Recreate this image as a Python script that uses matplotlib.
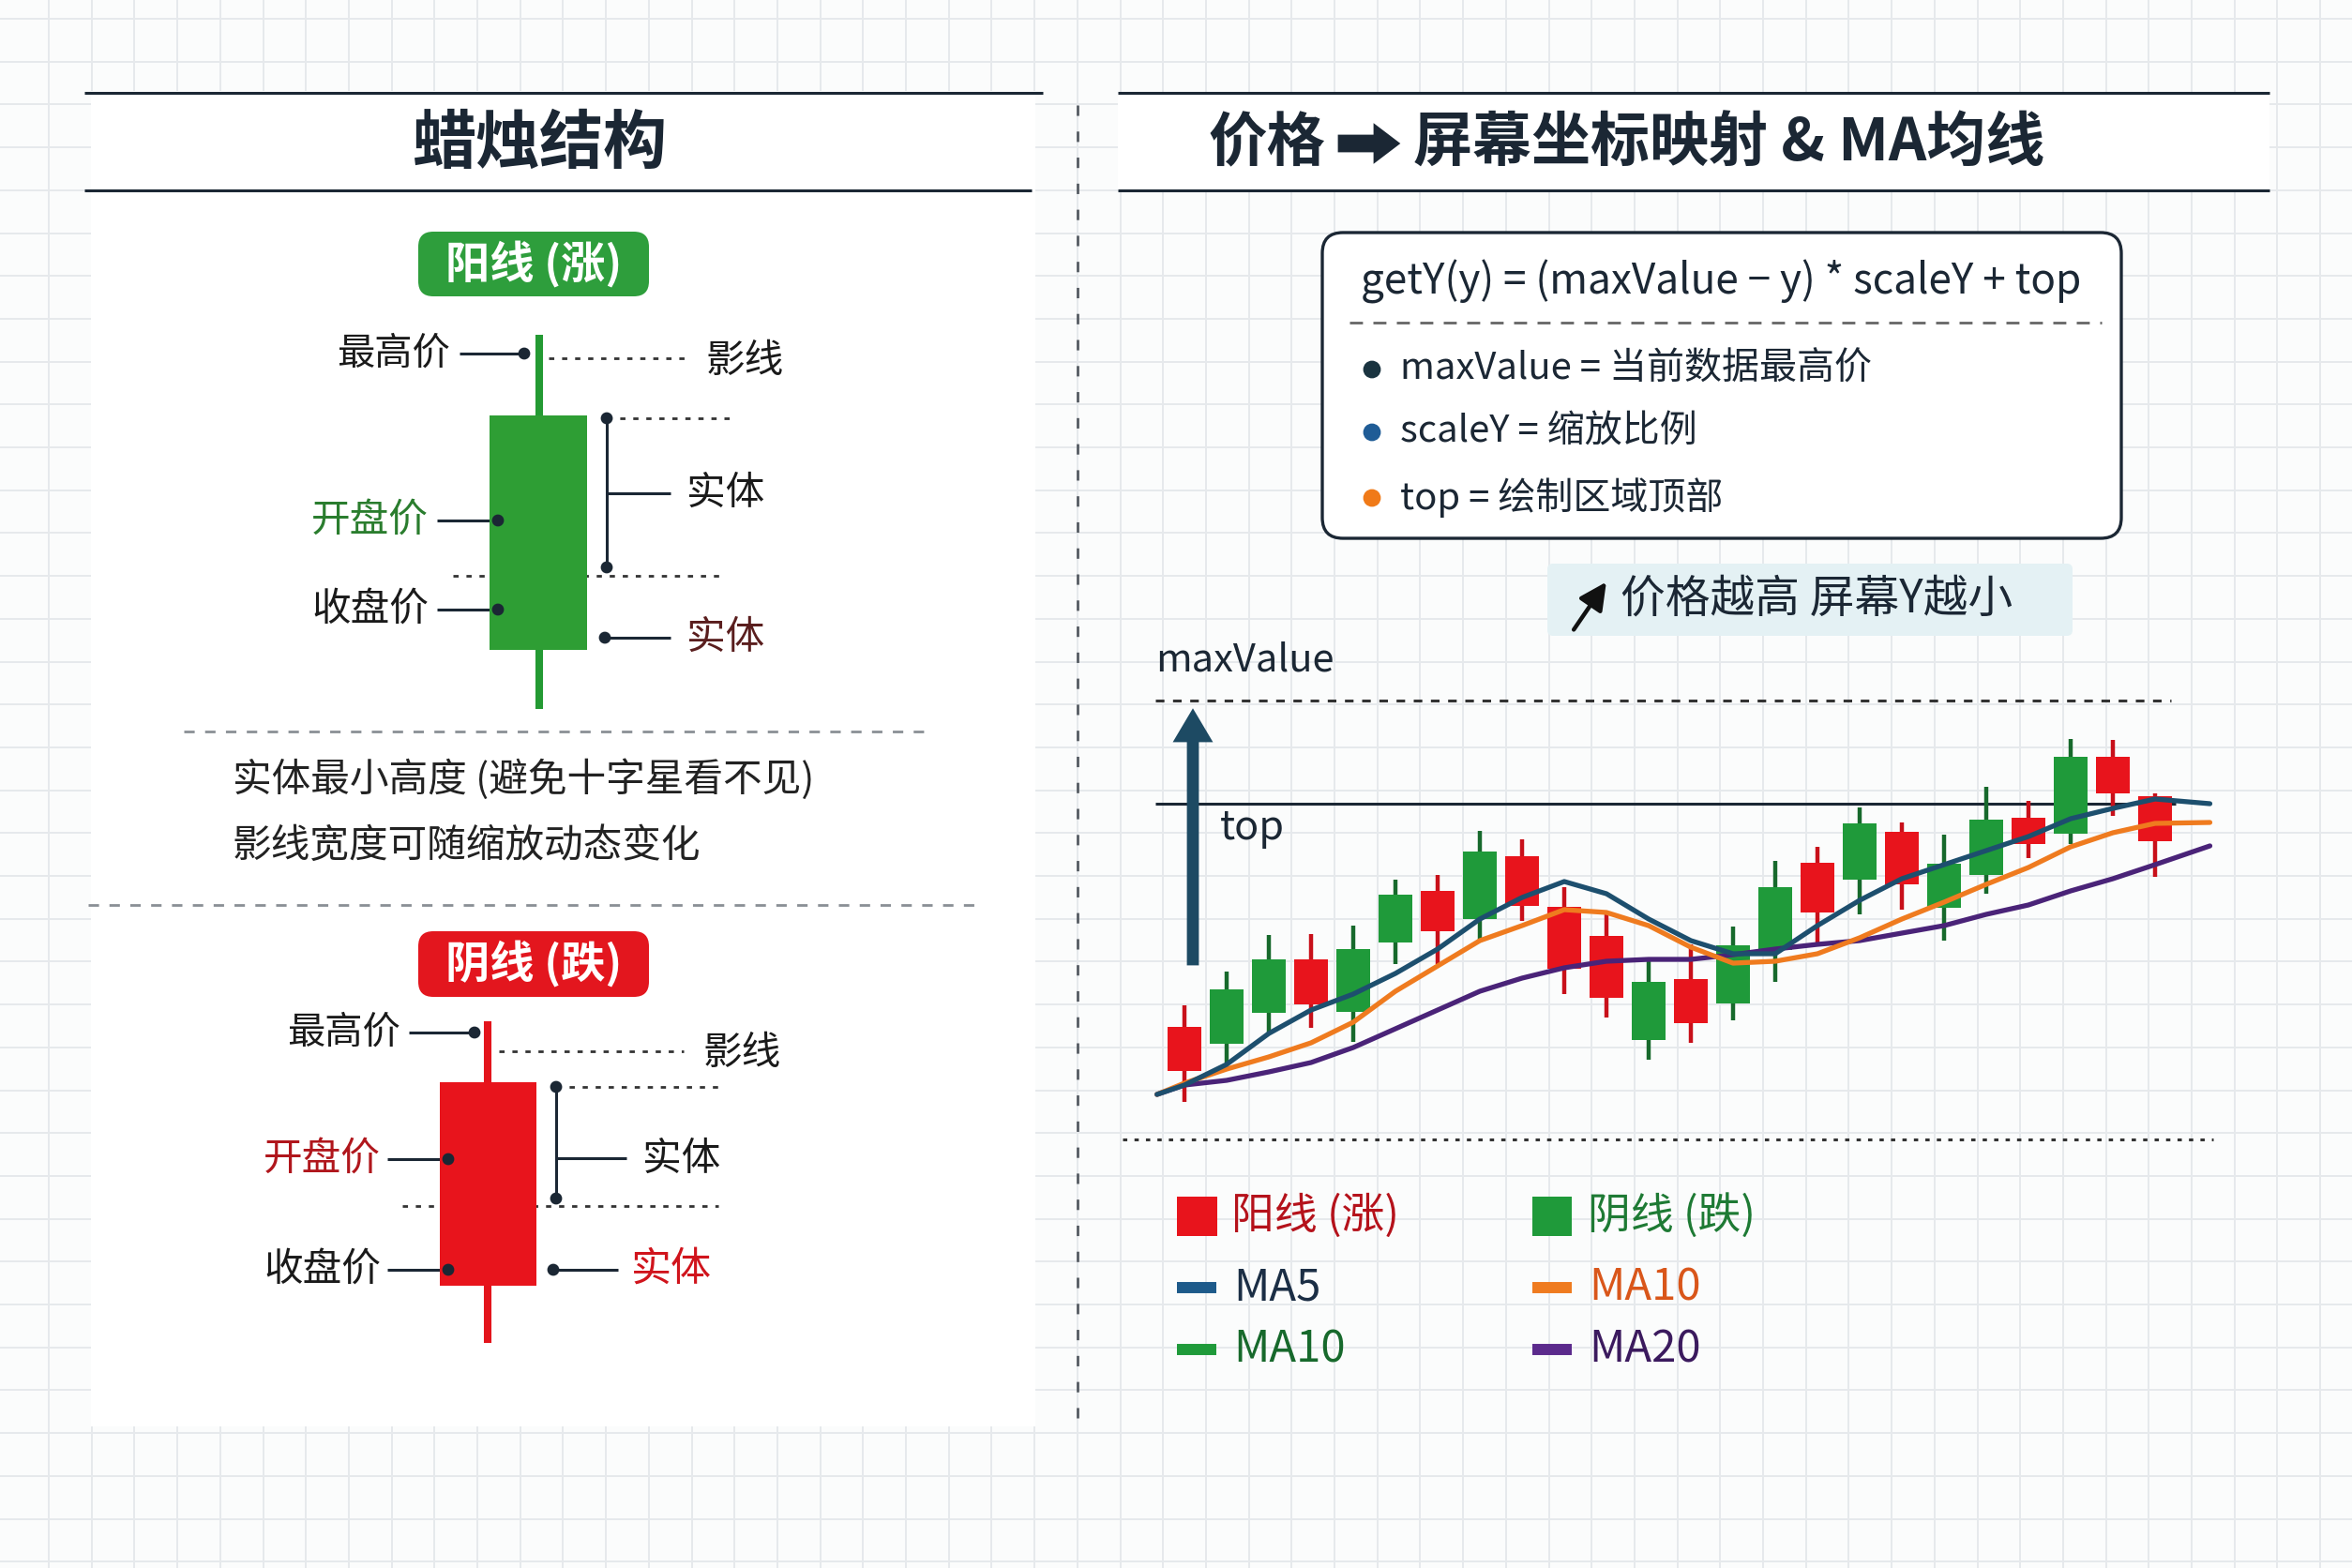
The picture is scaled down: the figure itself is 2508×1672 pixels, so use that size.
import numpy as np
import matplotlib
matplotlib.use('Agg')
import matplotlib.pyplot as plt
import matplotlib.patches as mpatches

plt.rcParams['font.family'] = ['Noto Sans CJK SC', 'DejaVu Sans']

W, H = 2508, 1672
DARK = '#1b2734'

# ---- candle data (price units) ----
opens  = [29, 72.5, 88.5, 64.5, 94, 123, 103.5, 146, 117, 83.5, 68, 76.5,
          54.5, 96, 127, 113.5, 161, 128.5, 139.5, 163, 150, 196.5, 177, 151.5]
closes = [52.5, 43.5, 60, 88.5, 60.5, 97.5, 125, 110, 143.5, 116.5, 101, 45.5,
          78, 65, 93.5, 140, 131, 156.5, 116, 133.5, 164, 155.5, 196.5, 175.5]
highs  = [64, 82, 101.5, 102, 106.5, 131, 133.5, 157, 152.5, 127, 114, 87.5,
          96.5, 106, 141, 148.5, 169.5, 161.5, 155, 180.5, 173, 206, 205.5, 177]
lows   = [12.5, 33.5, 48.5, 52, 44.5, 86, 86, 98.5, 109, 70, 57.5, 35,
          44, 56, 76.5, 96.5, 112.5, 115, 98.5, 123.5, 142.5, 150, 165, 132.5]

# moving average lines (start point, one value per candle, end point)
ma_x = [-0.65] + list(range(24)) + [24.3]
ma5  = [16.5, 21.5, 32.5, 49, 61.5, 70, 81, 94, 110, 121.5, 130, 123.5, 110,
        98.5, 91.5, 91.5, 106.5, 120, 131.5, 139, 146.5, 154, 163.5, 169, 174, 171.5]
ma10 = [16.5, 22.5, 30, 36.5, 44, 55, 71.5, 85, 98.5, 106.5, 115, 113.5, 106.5,
        95, 86.5, 87.5, 91.5, 100, 110, 119, 128.5, 137.5, 148.5, 156, 161, 161.5]
ma20 = [16.5, 21.5, 24, 28.5, 33.5, 41.5, 51.5, 61.5, 71.5, 78.5, 84, 87.5, 88.5,
        88.5, 91, 94, 96.5, 98.5, 102.5, 106.5, 112.5, 117.5, 125, 131.5, 139, 149]

legend_labels = ['阳线 (涨)', '阴线 (跌)', 'MA5', 'MA10', 'MA10', 'MA20']

fig = plt.figure(figsize=(W / 200, H / 200), dpi=200, facecolor='#fbfcfc')
ax = fig.add_axes([0, 0, 1, 1])
ax.set_xlim(0, W)
ax.set_ylim(H, 0)
ax.axis('off')

# background grid
for gx in np.arange(52, W, 45.7):
    ax.plot([gx, gx], [0, H], color='#e6e9ec', lw=0.7, zorder=0)
for gy in np.arange(20, H, 45.7):
    ax.plot([0, W], [gy, gy], color='#e6e9ec', lw=0.7, zorder=0)

# white panels
ax.add_patch(mpatches.Rectangle((97, 97), 1007, 1424, facecolor='white', edgecolor='none', zorder=1))
ax.add_patch(mpatches.Rectangle((1192, 99), 1228, 104, facecolor='white', edgecolor='none', zorder=1))


def hline(x0, x1, y, **kw):
    ax.plot([x0, x1], [y, y], zorder=3, solid_capstyle='butt', **kw)


def dot(x, y, r=5, c=DARK):
    ax.add_patch(mpatches.Circle((x, y), r, color=c, zorder=4))


def txt(x, y, s, size=14.5, color='#1a1a1a', ha='left', **kw):
    ax.text(x, y, s, fontsize=size, color=color, ha=ha, va='center', zorder=5, **kw)


# ---- titles ----
hline(90, 1112, 99, color=DARK, lw=1.1)
hline(90, 1100, 203, color=DARK, lw=1.1)
hline(1192, 2420, 99, color=DARK, lw=1.1)
hline(1192, 2420, 203, color=DARK, lw=1.1)
txt(576, 154, '蜡烛结构', size=24.5, color=DARK, ha='center', weight='bold')
txt(1413, 153, '价格', size=22.5, color=DARK, ha='right', weight='bold')
ax.add_patch(mpatches.Polygon([(1428, 145), (1466, 145), (1466, 134), (1491, 153),
                               (1466, 172), (1466, 161), (1428, 161)],
                              closed=True, color=DARK, zorder=4))
txt(1507, 153, '屏幕坐标映射 & MA均线', size=22.7, color=DARK, weight='bold')

# divider
ax.plot([1149, 1149], [112, 1518], color='#555b62', lw=1.0, ls=(0, (4, 6)), zorder=3)

# ---- left panel: candle anatomy ----
# green (阳线) diagram
ax.add_patch(mpatches.FancyBboxPatch((446, 247), 246, 69, boxstyle='round,pad=0,rounding_size=16',
                                     facecolor='#2e9e3c', edgecolor='none', zorder=3))
txt(569, 282, '阳线 (涨)', size=17, color='white', ha='center', weight='bold')
ax.plot([575, 575], [357, 756], color='#249a33', lw=2.9, zorder=3, solid_capstyle='butt')
ax.add_patch(mpatches.Rectangle((522, 443), 104, 250, facecolor='#2e9e34', edgecolor='none', zorder=4))
txt(480, 377, '最高价', ha='right')
hline(490, 559, 377, color=DARK, lw=1.1)
dot(559, 377)
hline(585, 736, 382, color='#333', lw=1.0, ls=(0, (2, 3)))
txt(753, 386, '影线', size=15)
ax.plot([647, 647], [446, 605], color=DARK, lw=1.1, zorder=3)
dot(647, 446); dot(647, 605)
hline(647, 778, 446, color='#333', lw=1.0, ls=(0, (2, 3)))
hline(647, 715, 526, color=DARK, lw=1.1)
txt(732, 526, '实体', size=15)
hline(483, 771, 614, color='#333', lw=1.0, ls=(0, (2, 3)))
txt(457, 555, '开盘价', ha='right', color='#2a7d2e', size=15)
hline(466, 531, 555, color=DARK, lw=1.1)
dot(531, 555)
txt(457, 650, '收盘价', ha='right', size=15)
hline(466, 531, 650, color=DARK, lw=1.1)
dot(531, 650)
hline(645, 715, 680, color=DARK, lw=1.1)
dot(645, 680)
txt(732, 680, '实体', color='#5a1e1e', size=15)

# notes
hline(196, 985, 780, color='#8a8f95', lw=1.0, ls=(0, (4, 4)))
txt(248, 831, '实体最小高度 (避免十字星看不见)', size=15, color='#222')
txt(248, 902, '影线宽度可随缩放动态变化', size=15, color='#222')
hline(94, 1045, 965, color='#8a8f95', lw=1.0, ls=(0, (4, 4)))

# red (阴线) diagram
ax.add_patch(mpatches.FancyBboxPatch((446, 993), 246, 70, boxstyle='round,pad=0,rounding_size=16',
                                     facecolor='#e3161e', edgecolor='none', zorder=3))
txt(569, 1028, '阴线 (跌)', size=17, color='white', ha='center', weight='bold')
ax.plot([520, 520], [1089, 1432], color='#e3141c', lw=2.9, zorder=3, solid_capstyle='butt')
ax.add_patch(mpatches.Rectangle((469, 1154), 103, 217, facecolor='#e8141c', edgecolor='none', zorder=4))
txt(427, 1101, '最高价', ha='right')
hline(436, 506, 1101, color=DARK, lw=1.1)
dot(506, 1101)
hline(532, 729, 1121, color='#333', lw=1.0, ls=(0, (2, 3)))
txt(750, 1124, '影线', size=15)
ax.plot([593, 593], [1159, 1278], color=DARK, lw=1.1, zorder=3)
dot(593, 1159); dot(593, 1278)
hline(593, 771, 1159, color='#333', lw=1.0, ls=(0, (2, 3)))
hline(593, 668, 1235, color=DARK, lw=1.1)
txt(685, 1236, '实体', size=15)
hline(429, 766, 1286, color='#333', lw=1.0, ls=(0, (2, 3)))
txt(406, 1236, '开盘价', ha='right', color='#b0161c', size=15)
hline(413, 478, 1236, color=DARK, lw=1.1)
dot(478, 1236)
txt(406, 1354, '收盘价', ha='right', size=15)
hline(413, 478, 1354, color=DARK, lw=1.1)
dot(478, 1354)
hline(590, 659, 1354, color=DARK, lw=1.1)
dot(590, 1354)
txt(673, 1354, '实体', color='#d0141c', size=15.5)

# ---- right panel: formula box ----
ax.add_patch(mpatches.FancyBboxPatch((1410, 248), 852, 326, boxstyle='round,pad=0,rounding_size=22',
                                     facecolor='white', edgecolor=DARK, lw=1.2, zorder=3))
txt(1451, 300, 'getY(y) = (maxValue − y) * scaleY + top', size=15.9, color=DARK)
hline(1439, 2241, 344, color='#666', lw=1.0, ls=(0, (5, 4)))
bullets = [('maxValue = 当前数据最高价', '#1a3440', 394),
           ('scaleY = 缩放比例', '#1f5c96', 461),
           ('top = 绘制区域顶部', '#f07a18', 531)]
for s, c, y in bullets:
    dot(1463, y, r=8, c=c)
    txt(1493, y, s, size=14.4, color=DARK)

# callout
ax.add_patch(mpatches.FancyBboxPatch((1650, 601), 560, 77, boxstyle='round,pad=0,rounding_size=6',
                                     facecolor='#e4f1f4', edgecolor='none', zorder=3))
ax.annotate('', xy=(1716, 616), xytext=(1675, 676),
            arrowprops=dict(arrowstyle='-|>', color='#111', lw=1.6, mutation_scale=22), zorder=5)
txt(1728, 639, '价格越高 屏幕Y越小', size=17.2, color=DARK)

# chart decorations
txt(1232, 704, 'maxValue', size=15, color=DARK)
hline(1232, 2315, 747, color='#333', lw=1.1, ls=(0, (3, 3)))
hline(1232, 2320, 857, color=DARK, lw=1.1)
txt(1301, 883, 'top', size=15.5, color=DARK)
ax.add_patch(mpatches.FancyArrow(1272, 1028, 0, -270, width=10, head_width=38, head_length=32,
                                 length_includes_head=True, color='#1d4a63', zorder=4))
hline(1197, 2360, 1215, color='#333', lw=1.1, ls=(0, (1.5, 2.5)))

# ---- candlestick chart ----
cax = fig.add_axes([1218 / W, 1 - 1200 / H, 1170 / W, 460 / H])
cax.set_xlim(-1, 25)
cax.set_ylim(0, 230)
cax.axis('off')
cax.patch.set_alpha(0)
idx = np.arange(len(opens))
o = np.array(opens); c = np.array(closes)
up = c >= o
body_col = np.where(up, '#e8141c', '#1f9a3a')
wick_col = np.where(up, '#c8101a', '#17692c')
cax.vlines(idx, lows, highs, colors=wick_col, lw=1.6, zorder=2)
cax.bar(idx, np.abs(c - o), bottom=np.minimum(o, c), width=0.8, color=body_col, zorder=3)
cax.plot(ma_x, ma20, color='#4a2378', lw=1.9, zorder=4, solid_capstyle='round')
cax.plot(ma_x, ma10, color='#ef7b1f', lw=1.9, zorder=5, solid_capstyle='round')
cax.plot(ma_x, ma5, color='#1d4f6e', lw=1.9, zorder=6, solid_capstyle='round')

# ---- legend ----
ax.add_patch(mpatches.Rectangle((1255, 1276), 43, 42, facecolor='#e8141c', edgecolor='none', zorder=4))
txt(1313, 1297, legend_labels[0], size=16.5, color='#b5121b')
ax.add_patch(mpatches.Rectangle((1634, 1276), 42, 42, facecolor='#1f9a3a', edgecolor='none', zorder=4))
txt(1693, 1297, legend_labels[1], size=16.5, color='#1e7a34')
leg_lines = [(1255, 1373, '#1d5a8a', legend_labels[2], '#1b2e45'),
             (1634, 1373, '#ef7b1f', legend_labels[3], '#d9561a'),
             (1255, 1439, '#1f9a3a', legend_labels[4], '#17692c'),
             (1634, 1439, '#5b2a8c', legend_labels[5], '#3b1a5e')]
for x, y, lc, s, tc in leg_lines:
    hline(x, x + 42, y, color=lc, lw=4.3)
    txt(x + 60, y, s, size=17, color=tc)

fig.savefig('out.png', dpi=200, facecolor=fig.get_facecolor())
